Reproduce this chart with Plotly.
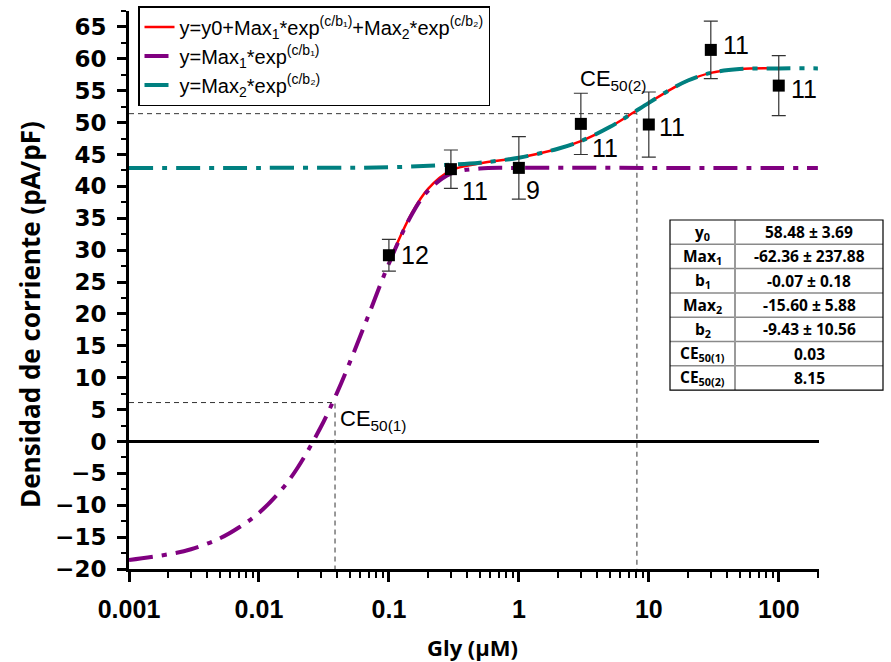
import numpy as np
import plotly.graph_objects as go

# ---- data ----
conc = [0.1, 0.3, 1, 3, 10, 30, 100]
density = [29.2, 42.7, 42.9, 49.8, 49.7, 61.4, 55.8]
density_err = [2.5, 3.0, 4.9, 4.8, 5.1, 4.5, 4.7]
n_cells = ["12", "11", "9", "11", "11", "11", "11"]

purple_x = [0.001, 0.002, 0.003, 0.005, 0.007, 0.01, 0.015, 0.02, 0.03, 0.04, 0.05, 0.07,
            0.1, 0.15, 0.2, 0.3, 0.5, 1, 10, 100, 200]
purple_y = [-18.6, -17.7, -16.9, -15.2, -13.5, -11.2, -7.5, -4.0, 2.3, 7.7, 12.4, 19.9,
            27.9, 35.6, 39.3, 42.0, 42.8, 42.9, 42.9, 42.9, 42.9]

teal_x = [0.001, 0.01, 0.1, 0.3, 0.5, 1, 2, 3, 5, 7, 10, 15, 20, 30, 50, 100, 200]
teal_y = [42.9, 42.9, 43.0, 43.4, 43.7, 44.5, 45.9, 47.1, 49.3, 51.1, 53.1, 55.3, 56.6, 57.8, 58.4, 58.5, 58.5]

red_x = [0.1, 0.15, 0.2, 0.3, 0.5, 1, 2, 3, 5, 7, 10, 15, 20, 30, 50, 100]
red_y = [28.1, 35.8, 39.6, 42.5, 43.6, 44.5, 45.9, 47.1, 49.3, 51.1, 53.1, 55.3, 56.6, 57.8, 58.4, 58.5]

ce50_x = [0.0385, 8.1]
ce50_y = [6.1, 51.4]
ce50_names = ["CE<sub>50(1)</sub>", "CE<sub>50(2)</sub>"]

param_names = ["y<sub>0</sub>", "Max<sub>1</sub>", "b<sub>1</sub>", "Max<sub>2</sub>", "b<sub>2</sub>",
               "CE<sub>50(1)</sub>", "CE<sub>50(2)</sub>"]
param_values = ["58.48 ± 3.69", "-62.36 ± 237.88", "-0.07 ± 0.18", "-15.60 ± 5.88",
                "-9.43 ± 10.56", "0.03", "8.15"]

x_tickvals = [0.001, 0.01, 0.1, 1, 10, 100]
x_ticktext = ["0.001", "0.01", "0.1", "1", "10", "100"]
y_tickvals = list(range(-20, 66, 5))

x_axis_min, x_axis_max = 0.001, 204
y_axis_min, y_axis_max = -20, 67.5

# ---- styling (offsets for the n labels, in px) ----
label_dx = [10, 9, 5, 9, 8, 10, 10]
label_dy = [0, -22, -22, -24, -2, 5, -3]

W, H = 891, 662
ML, MR, MT, MB = 129, 5, 11, 93
paper_w = W - ML - MR
paper_h = H - MT - MB
plot_right_px = 819
plot_bottom_px = H - MB


def px_x(p):
    return (p - ML) / paper_w


def px_y(p):
    return (plot_bottom_px - p) / paper_h


fig = go.Figure()

# CE50 guide lines
for cx, cy in zip(ce50_x, ce50_y):
    fig.add_trace(go.Scatter(x=[x_axis_min, cx, cx], y=[cy, cy, y_axis_min], mode="lines",
                             line=dict(color="#333", width=1, dash="5px,4px"),
                             showlegend=False, hoverinfo="skip"))

fig.add_trace(go.Scatter(x=red_x, y=red_y, mode="lines", line=dict(color="#ff0000", width=2.5, shape="spline"),
                         name="y=y0+Max<sub>1</sub>*exp<sup>(c/b₁)</sup>+Max<sub>2</sub>*exp<sup>(c/b₂)</sup>"))
fig.add_trace(go.Scatter(x=purple_x, y=purple_y, mode="lines",
                         line=dict(color="#800080", width=4, dash="24px,9px,5px,9px", shape="spline"),
                         name="y=Max<sub>1</sub>*exp<sup>(c/b₁)</sup>"))
fig.add_trace(go.Scatter(x=teal_x, y=teal_y, mode="lines",
                         line=dict(color="#008080", width=4, dash="24px,9px,5px,9px", shape="spline"),
                         name="y=Max<sub>2</sub>*exp<sup>(c/b₂)</sup>"))

fig.add_trace(go.Scatter(x=conc, y=density, mode="markers",
                         marker=dict(symbol="square", size=12, color="black"),
                         error_y=dict(type="data", array=density_err, color="#333", thickness=1.2, width=7),
                         showlegend=False))

for xv, yv, t, dx, dy in zip(conc, density, n_cells, label_dx, label_dy):
    fig.add_annotation(x=np.log10(xv), y=yv, xref="x", yref="y", text=t, showarrow=False,
                       xanchor="left", yanchor="middle", xshift=dx, yshift=dy,
                       font=dict(family="Liberation Sans, Arial", size=25, color="black"))

# CE50 labels
fig.add_annotation(x=np.log10(ce50_x[0]), y=ce50_y[0], xref="x", yref="y", text=ce50_names[0],
                   showarrow=False, xanchor="left", yanchor="top", xshift=3, yshift=-1,
                   font=dict(family="Liberation Sans, Arial", size=22, color="black"))
fig.add_annotation(x=np.log10(ce50_x[1]), y=ce50_y[1], xref="x", yref="y", text=ce50_names[1],
                   showarrow=False, xanchor="right", yanchor="bottom", xshift=12, yshift=18,
                   font=dict(family="Liberation Sans, Arial", size=22, color="black"))

# parameter table (drawn with shapes + annotations)
tbl_left, tbl_mid, tbl_right = 670, 735, 883
tbl_top, row_h = 220, 24.3
n_rows = len(param_names)
tbl_bottom = tbl_top + n_rows * row_h
shapes = []
for i in range(1, n_rows):
    yy = tbl_top + i * row_h
    shapes.append(dict(type="line", xref="paper", yref="paper", x0=px_x(tbl_left), x1=px_x(tbl_right),
                       y0=px_y(yy), y1=px_y(yy), line=dict(color="#8a8a8a", width=1.5)))
shapes.append(dict(type="line", xref="paper", yref="paper", x0=px_x(tbl_mid), x1=px_x(tbl_mid),
                   y0=px_y(tbl_top), y1=px_y(tbl_bottom), line=dict(color="#9a9a9a", width=2)))
shapes.append(dict(type="rect", xref="paper", yref="paper", x0=px_x(tbl_left), x1=px_x(tbl_right),
                   y0=px_y(tbl_bottom), y1=px_y(tbl_top), line=dict(color="black", width=1.2),
                   fillcolor="rgba(0,0,0,0)"))
fig.update_layout(shapes=shapes)
cell_font = dict(family="Open Sans, Lato", size=15.5, color="black")
for i, (nm, val) in enumerate(zip(param_names, param_values)):
    yc = tbl_top + (i + 0.5) * row_h
    fig.add_annotation(xref="paper", yref="paper", x=px_x((tbl_left + tbl_mid) / 2), y=px_y(yc),
                       text="<b>" + nm + "</b>", showarrow=False, xanchor="center", yanchor="middle",
                       font=cell_font)
    fig.add_annotation(xref="paper", yref="paper", x=px_x((tbl_mid + tbl_right) / 2), y=px_y(yc),
                       text="<b>" + val + "</b>", showarrow=False, xanchor="center", yanchor="middle",
                       font=cell_font)

fig.update_layout(
    width=W, height=H, autosize=False,
    margin=dict(l=ML, r=MR, t=MT, b=MB),
    paper_bgcolor="white", plot_bgcolor="white",
    showlegend=True,
    legend=dict(x=px_x(138), y=px_y(6), xanchor="left", yanchor="top",
                bgcolor="white", bordercolor="black", borderwidth=1.5,
                font=dict(family="Liberation Sans, Arial", size=20, color="black"),
                tracegroupgap=0),
    xaxis=dict(type="log", range=[np.log10(x_axis_min), np.log10(x_axis_max)],
               domain=[0, px_x(plot_right_px)],
               tickvals=x_tickvals, ticktext=x_ticktext,
               showline=True, linecolor="black", linewidth=3, ticks="outside", ticklen=10, tickwidth=2.5,
               tickcolor="black", showgrid=False, zeroline=False, ticklabelstandoff=6,
               tickfont=dict(family="Liberation Sans, Arial", size=25, color="black", weight="bold"),
               minor=dict(ticks="outside", ticklen=6, tickwidth=2, tickcolor="black", dtick="D1", showgrid=False)),
    yaxis=dict(range=[y_axis_min, y_axis_max], tickvals=y_tickvals,
               showline=True, linecolor="black", linewidth=3, ticks="outside", ticklen=9, tickwidth=2.5,
               tickcolor="black", showgrid=False, zeroline=True, zerolinecolor="black", zerolinewidth=3,
               ticklabelstandoff=6,
               tickfont=dict(family="DejaVu Sans", size=23, color="black", weight="bold"),
               minor=dict(ticks="outside", ticklen=5, tickwidth=2, tickcolor="black", dtick=2.5, showgrid=False)),
)

fig.add_annotation(xref="paper", yref="paper", x=px_x(30), y=px_y(315),
                   text="<b>Densidad de corriente (pA/pF)</b>", textangle=-90, showarrow=False,
                   xanchor="center", yanchor="middle",
                   font=dict(family="Open Sans, Lato", size=26, color="black"))
fig.add_annotation(xref="paper", yref="paper", x=px_x(472), y=px_y(647),
                   text="<b>Gly (µM)</b>", showarrow=False, xanchor="center", yanchor="middle",
                   font=dict(family="Open Sans, Lato", size=22, color="black"))

fig.write_html("out.html")
